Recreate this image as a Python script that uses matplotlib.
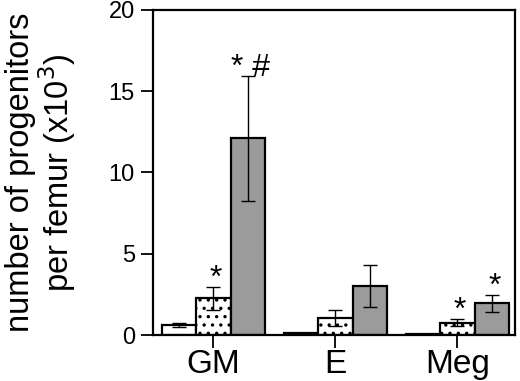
"""
progenitor counts per femur, three groups per lineage
"""
import numpy as np
import matplotlib.pyplot as plt
import matplotlib as mpl

plt.rcParams['font.family'] = ['Liberation Sans', 'DejaVu Sans']
mpl.rcParams['hatch.linewidth'] = 1.2

categories = ['GM', 'E', 'Meg']
white_vals = [0.6, 0.1, 0.05]
white_err = [0.12, 0.0, 0.0]
dot_vals = [2.26, 1.03, 0.76]
dot_err = [0.7, 0.48, 0.21]
gray_vals = [12.1, 3.0, 1.95]
gray_err = [3.85, 1.3, 0.53]
# significance marks: (category index, series index, text)
marks = [(0, 1, '*'), (0, 2, '* #'), (2, 1, '*'), (2, 2, '*')]

x = np.arange(len(categories))
w = 0.283

fig = plt.figure(figsize=(5.2, 3.81), dpi=100)
ax = fig.add_axes([0.294, 0.1207, 0.696, 0.8531])

series = [(white_vals, white_err, 'white', None),
          (dot_vals, dot_err, 'white', '..'),
          (gray_vals, gray_err, '#9b9b9b', None)]
for i, (vals, err, col, hatch) in enumerate(series):
    pos = x + (i - 1) * w
    ax.bar(pos, vals, w, color=col, edgecolor='black', linewidth=1.6,
           hatch=hatch, zorder=2)
    ax.errorbar(pos, vals, yerr=err, fmt='none', ecolor='black',
                elinewidth=1.0, capsize=5, capthick=1.0, zorder=3)

all_vals = [white_vals, dot_vals, gray_vals]
all_err = [white_err, dot_err, gray_err]
for ci, si, txt in marks:
    top = all_vals[si][ci] + all_err[si][ci]
    ax.annotate(txt, (x[ci] + (si - 1) * w + 0.02, top), xytext=(0, -5),
                textcoords='offset points', ha='center', va='bottom',
                fontsize=23)

ax.set_xlim(-0.496, 2.47)
ax.set_ylim(0, 20)
ax.set_yticks([0, 5, 10, 15, 20])
ax.set_xticks(x)
ax.set_xticklabels(categories, fontsize=24)
ax.tick_params(axis='y', labelsize=17, length=9, width=1.3, pad=4)
ax.tick_params(axis='x', length=9, width=1.3, pad=1)
for sp in ax.spines.values():
    sp.set_linewidth(1.6)
ax.set_ylabel('number of progenitors\nper femur (x10$^3$)', fontsize=23.5,
              linespacing=1.0, labelpad=22)

plt.savefig('out.png', dpi=100)
